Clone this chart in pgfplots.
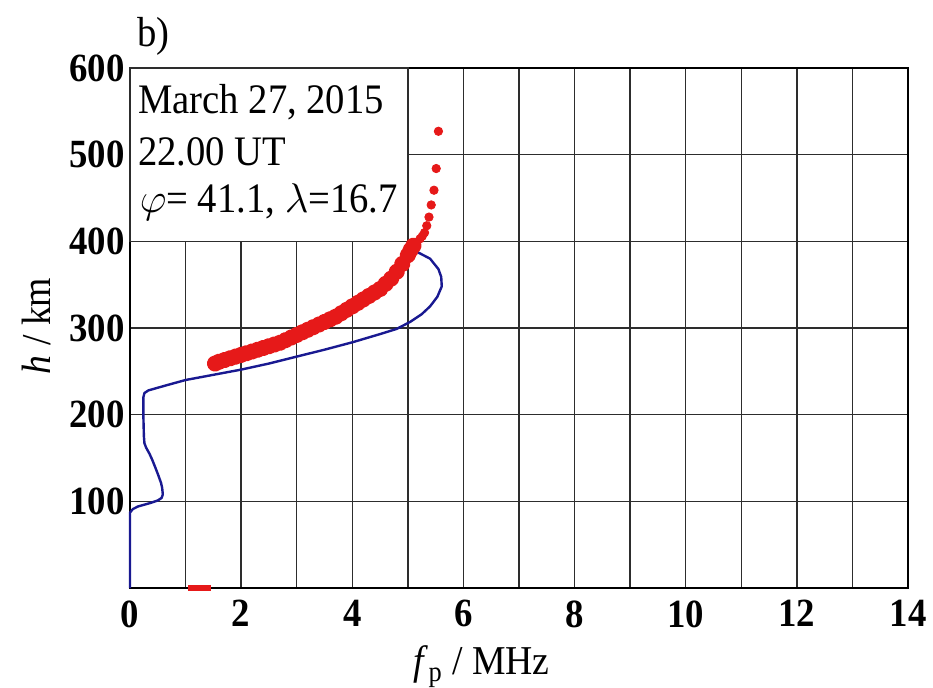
\documentclass[border=0pt]{standalone}
\usepackage{fontspec}
\setmainfont{Liberation Serif}[FakeStretch=0.92]
\usepackage{pgfplots}
\pgfplotsset{compat=1.18}
\definecolor{dotred}{RGB}{230,25,25}
\definecolor{navyline}{RGB}{25,25,145}
\definecolor{gridgray}{RGB}{45,45,45}
\begin{document}
\begin{tikzpicture}
\begin{axis}[
 scale only axis, width=389pt, height=260pt,
 xmin=0,xmax=14,ymin=0,ymax=600,
 xtick={0,2,...,14}, minor xtick={1,3,...,13},
 ytick={100,200,...,600},
 grid=both,
 major grid style={gridgray, line width=0.75pt},
 minor grid style={gridgray, line width=0.75pt},
 major tick length=0pt, minor tick length=0pt,
 axis line style={black, line width=1.1pt},
 clip=false,
 /pgf/number format/assume math mode=true,
 ticklabel style={font=\fontsize{20}{23}\selectfont\bfseries},
 xticklabel style={anchor=north, inner sep=0pt, yshift=-6pt},
 yticklabel style={anchor=east, inner sep=0pt, xshift=-2.5pt},
 xlabel={\textit{f}\textsubscript{p} / MHz},
 ylabel={\textit{h} / km},
 label style={font=\fontsize{20.5}{24}\selectfont, inner sep=0pt},
 xlabel style={at={(axis description cs:0.452,-0.167)}, anchor=base},
 ylabel style={at={(axis description cs:-0.1028,0.504)}, anchor=base},
]
\filldraw[fill=white, draw=gridgray, line width=0.75pt] (axis cs:0,400) rectangle (axis cs:5,600);
\begin{scope}[every node/.style={anchor=base west, inner sep=0pt, font=\fontsize{21}{24}\selectfont}]
\node at (axis cs:0.14,548) {March 27, 2015};
\node at (axis cs:0.14,488) {22.00 UT};
\node at (axis cs:0.17,433) {$\varphi$= 41.1, $\lambda$=16.7};
\end{scope}
\node[anchor=west, inner sep=0pt, font=\fontsize{21}{24}\selectfont] at (rel axis cs:0.009,1.06) {b)};

% blue profile
\addplot[navyline, line width=1.2pt, line join=round] coordinates {
(0,0)(0,87)(0.05,91)(0.14,94)(0.36,98)(0.5,101)(0.57,104)(0.59,108)(0.58,115)(0.56,121)(0.51,130)(0.45,140)(0.40,148)(0.35,155)(0.29,162)(0.26,167)(0.25,175)(0.24,200)(0.24,220)(0.26,225)(0.33,228)(0.66,234)(1.0,240)(1.5,246)(2.0,252)(2.5,259)(3.0,267)(3.5,275)(4.0,283.5)(4.5,293)(4.8,299)(5.04,307)(5.25,316)(5.40,325)(5.53,336)(5.61,348)(5.60,359)(5.55,368)(5.40,380)(5.16,388)(4.95,396)
};

% red dense part
\addplot[dotred, line width=4pt, line cap=round, line join=round, mark=*, mark size=2.1pt, mark options={draw=none, fill=dotred}] coordinates {
(1.53,259)(1.6,261)(1.7,263)(1.8,265)(1.9,267)(2.0,269)(2.1,271)(2.2,273)(2.3,275)(2.4,277)(2.5,279)(2.6,281)(2.7,283)(2.8,286)(2.9,289)(3.0,292)(3.1,295)(3.2,298)(3.3,301)(3.4,304)(3.5,307)(3.6,310)(3.7,313)(3.8,317)(3.9,321)(4.0,325)(4.1,329)(4.2,333)(4.3,337)(4.4,341)(4.5,345)(4.6,351)(4.7,357)(4.8,365)(4.9,374)(5.0,384)(5.05,390)(5.1,395)
};
% red sparse dots
\addplot[dotred, only marks, mark=*, mark size=2.1pt, mark options={draw=none, fill=dotred}] coordinates {
(5.16,399)(5.22,403)(5.26,406)(5.30,410)(5.34,418)(5.38,428)(5.42,442)(5.47,459)(5.51,484)(5.55,527)
};
% red at ground
\addplot[dotred, line width=3pt] coordinates {(1.05,0)(1.45,0)};

\coordinate (bbsw) at (rel axis cs:-0.1671,-0.1904);
\coordinate (bbne) at (rel axis cs:1.0321,1.1308);
\end{axis}
\pgfresetboundingbox
\useasboundingbox (bbsw) rectangle (bbne);
\end{tikzpicture}
\end{document}
